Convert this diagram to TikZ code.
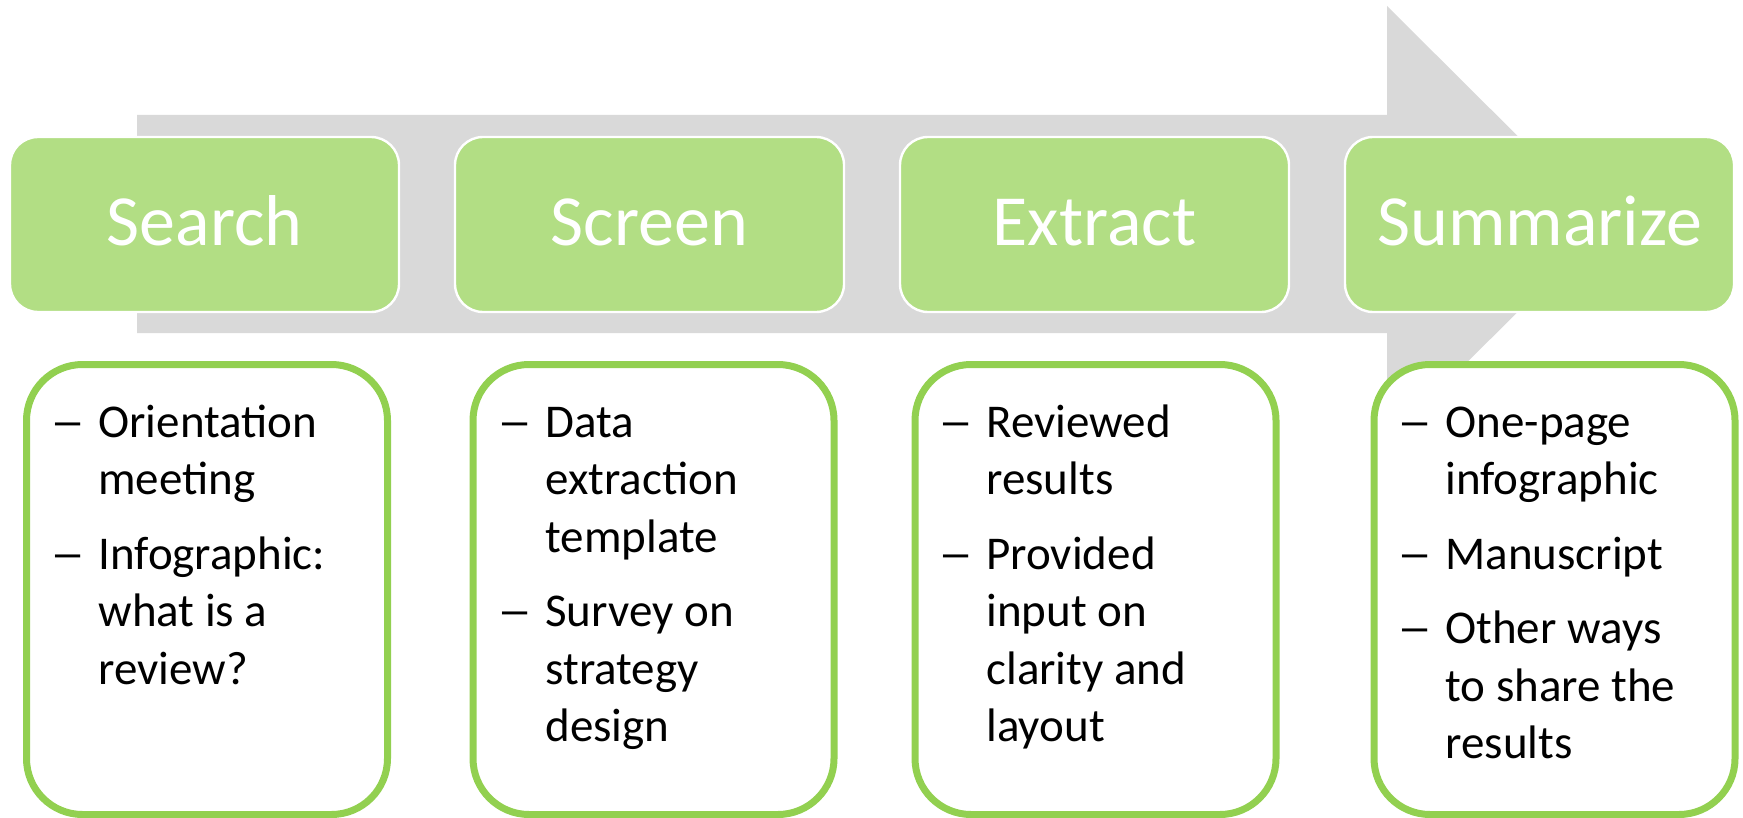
\documentclass[tikz,border=0pt]{standalone}
\usepackage{graphicx}
\usepackage{fontspec}
\setmainfont{Carlito}
\definecolor{stagegreen}{HTML}{B2DE84}
\definecolor{boxgreen}{HTML}{92D050}
\definecolor{arrowgray}{HTML}{D9D9D9}
\newcommand{\dsh}{\makebox[19pt][l]{\hspace*{-5pt}\scalebox{1.5}[1]{–}}}
\begin{document}
\begin{tikzpicture}[x=0.5pt,y=-0.5pt,
  stagebox/.style={draw=white, line width=1.2pt, fill=stagegreen, rounded corners=14pt,
    minimum width=194.5pt, minimum height=87.5pt, inner sep=0pt},
  detailbox/.style={draw=boxgreen, line width=3.5pt, fill=white, rounded corners=28pt,
    minimum width=180.5pt, minimum height=225pt, inner sep=0pt},
  stagetitle/.style={anchor=base, text=white, font=\fontsize{36}{43}\selectfont, inner sep=0pt},
  items/.style={anchor=base west, inner sep=0pt, font=\fontsize{23.5}{28.75}\selectfont}]
\useasboundingbox (0,0) rectangle (1743,818);
% big gray arrow
\fill[arrowgray] (137,115) -- (1387,115) -- (1387,6) -- (1606,224) -- (1387,442)
  -- (1387,333) -- (137,333) -- cycle;
% stage boxes
\node[stagebox] (s1) at (204.5,224.5) {};
\node[stagebox] (s2) at (649.5,224.5) {};
\node[stagebox] (s3) at (1094.5,224.5) {};
\node[stagebox] (s4) at (1539.5,224.5) {};
\node[stagetitle] (t1) at (204.5,245) {Search};
\node[stagetitle] (t2) at (649.5,245) {Screen};
\node[stagetitle] (t3) at (1094.5,245) {Extract};
\node[stagetitle] (t4) at (1539.5,245) {Summarize};
% detail boxes
\node[detailbox] (d1) at (207,589.5) {};
\node[detailbox] (d2) at (653.5,589.5) {};
\node[detailbox] (d3) at (1095.5,589.5) {};
\node[detailbox] (d4) at (1554.5,589.5) {};
\node[items] (i1) at (60,437) {\begin{tabular}[t]{@{}l@{}l@{}}
\dsh & Orientation\\
 & meeting\\[8.5pt]
\dsh & Infographic:\\
 & what is a\\
 & review?
\end{tabular}};
\node[items] (i2) at (507,437) {\begin{tabular}[t]{@{}l@{}l@{}}
\dsh & Data\\
 & extraction\\
 & template\\[8.5pt]
\dsh & Survey on\\
 & strategy\\
 & design
\end{tabular}};
\node[items] (i3) at (948,437) {\begin{tabular}[t]{@{}l@{}l@{}}
\dsh & Reviewed\\
 & results\\[8.5pt]
\dsh & Provided\\
 & input on\\
 & clarity and\\
 & layout
\end{tabular}};
\node[items] (i4) at (1407,437) {\begin{tabular}[t]{@{}l@{}l@{}}
\dsh & One-page\\
 & infographic\\[8.5pt]
\dsh & Manuscript\\[8.5pt]
\dsh & Other ways\\
 & to share the\\
 & results
\end{tabular}};
\end{tikzpicture}
\end{document}
